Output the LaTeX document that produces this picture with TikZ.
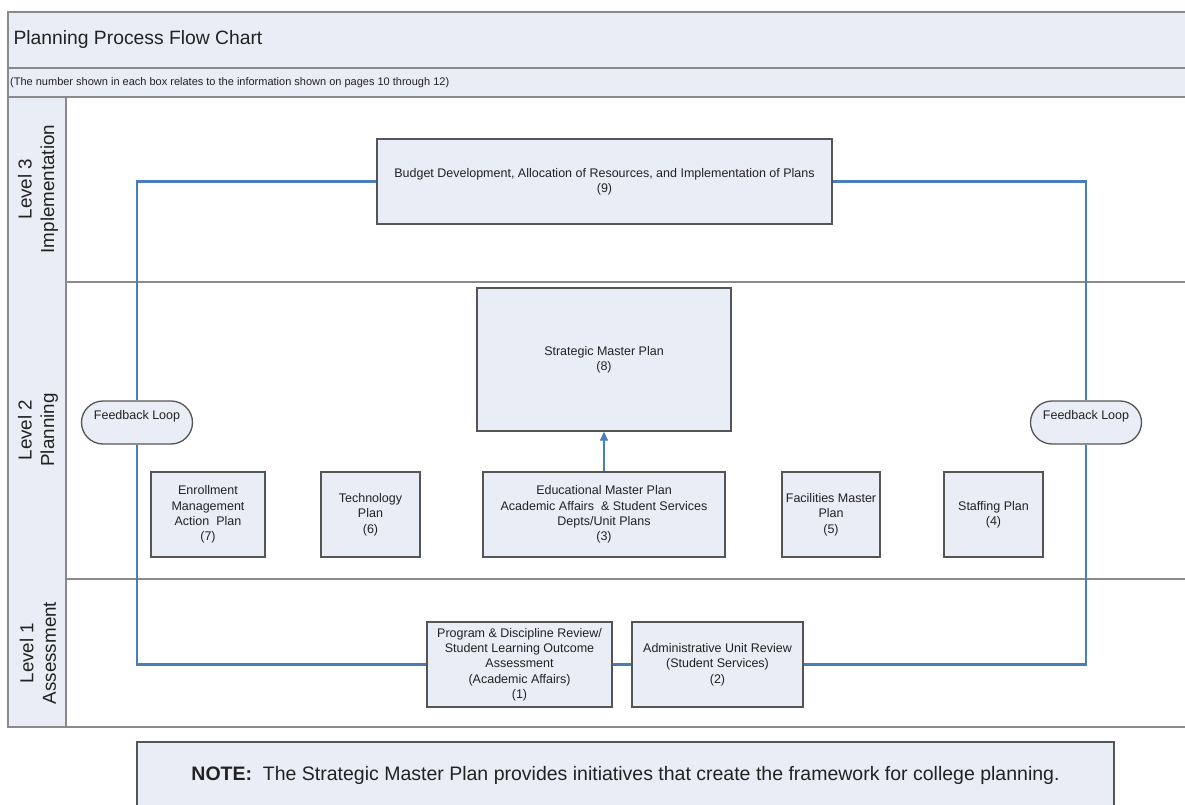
\documentclass[tikz,border=0pt]{standalone}
\usepackage{fontspec}
\setmainfont{Liberation Sans}
\usetikzlibrary{arrows.meta,shapes.misc}
\definecolor{boxfill}{HTML}{E9EDF6}
\definecolor{boxline}{HTML}{555555}
\definecolor{loopblue}{HTML}{4A7EBB}
\definecolor{laneline}{HTML}{8A8A8A}
\definecolor{inktext}{HTML}{222222}
\begin{document}
\begin{tikzpicture}[x=1pt,y=-1pt]
	\tikzstyle{bx} = [draw=boxline, fill=boxfill, line width=1.3pt, shape=rectangle, align=center, text=inktext, font=\fontsize{12.5}{15.3}\selectfont, inner sep=2pt]
	\tikzstyle{fb} = [bx, shape=rounded rectangle, minimum width=115pt, minimum height=43pt]
	\tikzstyle{lanelbl} = [rotate=90, align=center, text=inktext, font=\fontsize{18.8}{22.5}\selectfont]
	\tikzstyle{frame} = [draw=laneline, line width=1.2pt]
	\tikzstyle{loopline} = [draw=loopblue, line width=2.4pt]
	\clip (0,0) rectangle (1185,805);
	\fill[white] (0,0) rectangle (1185,805);
	% title and lanes
	\filldraw[frame, fill=boxfill] (8,12) rectangle (1195,97);
	\draw[frame] (8,68) -- (1195,68);
	\filldraw[frame, fill=boxfill] (8,97) rectangle (66,727);
	\draw[frame] (66,727) -- (1195,727);
	\draw[frame] (66,282) -- (1195,282);
	\draw[frame] (66,579) -- (1195,579);
	\node[anchor=west, text=inktext, font=\fontsize{19.3}{22}\selectfont] (title) at (10,40) {Planning Process Flow Chart};
	\node[anchor=west, text=inktext, font=\fontsize{11}{12}\selectfont, inner sep=1pt] (subtitle) at (9,83) {(The number shown in each box relates to the information shown on pages 10 through 12)};
	\node[lanelbl] (lane3) at (38,189) {Level 3\\Implementation};
	\node[lanelbl] (lane2) at (38,430) {Level 2\\Planning};
	\node[lanelbl] (lane1) at (38,653) {Level 1\\Assessment};
	% level 3
	\node[bx, minimum width=455pt, minimum height=85pt] (budget) at (604.5,181.5) {Budget Development, Allocation of Resources, and Implementation of Plans\\(9)};
	% level 2
	\node[bx, minimum width=254pt, minimum height=143pt] (smp) at (604,359.5) {Strategic Master Plan\\(8)};
	\node[bx, minimum width=114pt, minimum height=85pt] (enroll) at (208,514.5) {Enrollment\\Management\\Action\ \ Plan\\(7)};
	\node[bx, minimum width=99pt, minimum height=85pt] (tech) at (370.5,514.5) {Technology\\Plan\\(6)};
	\node[bx, minimum width=242pt, minimum height=85pt] (edu) at (604,514.5) {Educational Master Plan\\Academic Affairs \ \& Student Services\\Depts/Unit Plans\\(3)};
	\node[bx, minimum width=98pt, minimum height=85pt] (facil) at (831,514.5) {Facilities Master\\Plan\\(5)};
	\node[bx, minimum width=99pt, minimum height=85pt] (staff) at (993.5,514.5) {Staffing Plan\\(4)};
	\node[fb] (fbleft) at (137,422.5) {\raisebox{6pt}[\height][\depth]{Feedback Loop}};
	\node[fb] (fbright) at (1086,422.5) {\raisebox{6pt}[\height][\depth]{Feedback Loop}};
	% level 1
	\node[bx, minimum width=185pt, minimum height=85pt] (prog) at (519.5,664.5) {Program \& Discipline Review/\\Student Learning Outcome\\Assessment\\(Academic Affairs)\\(1)};
	\node[bx, minimum width=171pt, minimum height=85pt] (admin) at (717.5,664.5) {Administrative Unit Review\\(Student Services)\\(2)};
	% note
	\node[bx, minimum width=977pt, minimum height=66pt, font=\fontsize{19.5}{22}\selectfont] (note) at (625.5,775) {\textbf{NOTE:}\ \ The Strategic Master Plan provides initiatives that create the framework for college planning.};
	% feedback loop
	\draw[loopline] (prog.west) -| (fbleft.south);
	\draw[loopline] (fbleft.north) |- (budget.west);
	\draw[loopline] (prog.east) -- (admin.west);
	\draw[loopline] (admin.east) -| (fbright.south);
	\draw[loopline] (fbright.north) |- (budget.east);
	\draw[draw=loopblue, line width=1.3pt, -{Triangle[length=9pt,width=8pt]}] (edu.north) -- (smp.south);
\end{tikzpicture}
\end{document}
